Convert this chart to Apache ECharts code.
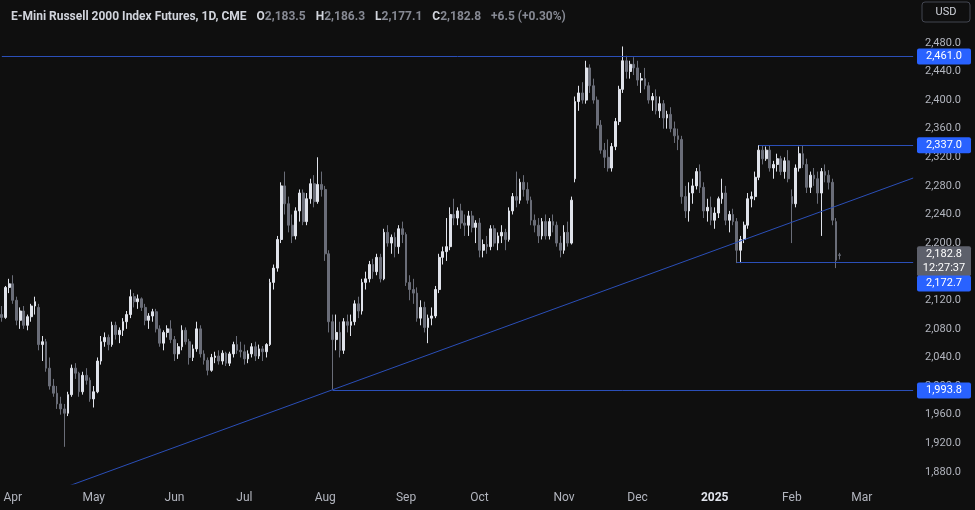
<!DOCTYPE html>
<html><head><meta charset="utf-8">
<script src="https://cdn.jsdelivr.net/npm/echarts@6/dist/echarts.min.js"></script>
<style>html,body{margin:0;background:#0f0f0f}#c{width:975px;height:510px}</style>
</head><body><div id="c"></div>
<script>
// [open, high, low, close] per trading day, from 2024-03-26 to 2025-02-21
const ohlc = [
[2100,2112,2090,2096],[2096,2140,2094,2138],[2138,2150,2130,2143],
[2143,2155,2115,2120],[2120,2125,2085,2092],[2092,2110,2080,2105],[2105,2112,2080,2085],[2085,2100,2078,2097],
[2097,2115,2090,2112],[2112,2125,2100,2118],[2110,2115,2050,2058],[2058,2070,2035,2062],[2062,2066,2020,2025],
[2025,2040,1995,2000],[2000,2010,1985,1990],[1990,2000,1968,1975],[1975,1985,1960,1968],[1968,1975,1915,1962],
[1962,1992,1958,1988],[1988,2030,1985,2025],[2025,2032,2010,2018],[2018,2020,1985,1992],[1992,2020,1988,2015],
[2015,2025,2002,2008],[2008,2012,1978,1982],
[1982,2000,1970,1992],[1992,2040,1990,2035],[2035,2070,2030,2062],[2062,2075,2055,2068],[2068,2072,2050,2058],
[2058,2090,2055,2085],[2085,2090,2065,2072],[2072,2082,2060,2078],[2078,2095,2070,2090],[2090,2105,2080,2100],
[2100,2135,2095,2125],[2125,2130,2110,2118],[2118,2128,2108,2122],[2122,2124,2105,2110],[2110,2115,2085,2092],
[2092,2102,2080,2098],[2098,2108,2090,2104],[2104,2108,2075,2080],[2080,2085,2055,2060],[2060,2078,2050,2075],
[2075,2085,2068,2080],[2080,2092,2060,2065],
[2065,2070,2035,2045],[2045,2060,2038,2055],[2055,2085,2050,2078],[2078,2082,2058,2062],[2062,2066,2030,2040],
[2040,2058,2035,2052],[2052,2090,2048,2080],[2080,2085,2040,2045],[2045,2050,2030,2036],[2036,2040,2015,2022],
[2022,2045,2020,2040],[2040,2048,2032,2042],[2042,2050,2030,2035],[2035,2050,2030,2046],[2046,2048,2028,2032],
[2032,2048,2028,2045],[2045,2062,2040,2058],[2058,2070,2045,2050],[2050,2062,2040,2048],
[2048,2058,2030,2038],[2038,2050,2032,2045],[2045,2060,2040,2055],[2055,2062,2035,2042],[2042,2058,2038,2052],
[2052,2056,2035,2048],[2048,2060,2040,2058],[2058,2150,2056,2145],[2145,2170,2135,2165],[2165,2210,2160,2205],
[2205,2285,2200,2280],[2280,2300,2240,2255],[2255,2265,2215,2225],[2225,2240,2200,2210],[2210,2250,2205,2245],
[2245,2275,2230,2270],[2270,2275,2225,2230],[2230,2270,2225,2262],[2262,2290,2255,2283],[2283,2295,2250,2258],
[2258,2320,2255,2282],[2282,2300,2265,2275],
[2275,2280,2175,2185],[2185,2190,2075,2090],[2090,2100,1995,2065],[2065,2100,2050,2075],[2075,2090,2040,2050],
[2050,2095,2045,2090],[2090,2100,2075,2085],[2085,2100,2070,2090],[2090,2120,2085,2115],[2115,2125,2095,2105],
[2105,2150,2100,2145],[2145,2160,2135,2150],[2150,2175,2145,2170],[2170,2178,2150,2160],[2160,2185,2155,2180],
[2180,2185,2145,2150],[2150,2220,2148,2215],[2215,2225,2195,2200],[2200,2212,2185,2208],[2208,2215,2180,2195],
[2195,2225,2185,2220],[2220,2230,2200,2212],
[2212,2215,2140,2145],[2145,2155,2120,2135],[2135,2150,2115,2130],[2130,2138,2090,2095],[2095,2120,2085,2110],
[2110,2118,2075,2082],[2082,2100,2060,2095],[2095,2110,2085,2098],[2098,2140,2095,2135],[2135,2185,2130,2180],
[2180,2195,2170,2188],[2188,2235,2175,2195],[2195,2250,2190,2240],[2240,2262,2225,2235],[2235,2250,2225,2245],
[2245,2255,2220,2228],[2228,2240,2210,2225],[2225,2245,2210,2238],[2238,2245,2215,2222],[2222,2232,2200,2228],
[2228,2235,2180,2190],[2190,2205,2180,2198],[2198,2210,2185,2195],[2195,2225,2190,2220],[2220,2225,2195,2200],
[2200,2215,2190,2210],[2210,2225,2200,2215],[2215,2220,2190,2205],[2205,2250,2202,2245],[2245,2270,2240,2265],
[2265,2300,2250,2260],[2260,2290,2255,2285],[2285,2295,2265,2275],[2275,2285,2255,2260],[2260,2265,2225,2232],
[2232,2240,2215,2225],[2225,2235,2200,2210],[2210,2235,2205,2230],[2230,2240,2205,2210],[2210,2235,2205,2230],
[2230,2240,2215,2225],[2225,2230,2195,2200],[2200,2210,2180,2190],
[2190,2225,2185,2215],[2215,2230,2195,2200],[2200,2265,2198,2260],[2290,2405,2285,2398],[2398,2420,2385,2410],
[2410,2425,2395,2400],[2400,2455,2395,2445],[2445,2450,2410,2420],[2420,2430,2395,2400],[2400,2405,2360,2365],
[2365,2372,2325,2330],[2330,2340,2305,2320],[2320,2345,2300,2305],[2305,2340,2300,2335],[2335,2375,2330,2370],
[2370,2420,2365,2415],[2415,2475,2410,2455],[2455,2462,2430,2440],[2440,2455,2430,2450],[2450,2460,2435,2445],
[2445,2455,2420,2428],[2428,2438,2410,2430],[2430,2445,2415,2420],[2420,2425,2395,2400],[2400,2410,2385,2405],
[2405,2415,2380,2385],[2385,2405,2375,2395],[2395,2400,2360,2375],[2375,2385,2360,2380],[2380,2390,2355,2360],
[2360,2370,2340,2350],[2350,2360,2330,2345],[2345,2350,2255,2265],[2265,2280,2235,2245],[2245,2285,2230,2270],
[2270,2290,2255,2280],[2280,2305,2275,2300],[2300,2310,2270,2278],[2278,2285,2235,2245],[2245,2262,2230,2250],
[2250,2265,2225,2232],
[2232,2250,2220,2242],[2242,2265,2235,2262],[2262,2290,2255,2270],[2270,2280,2225,2232],[2232,2245,2215,2240],
[2240,2248,2225,2230],[2230,2235,2172,2190],[2190,2210,2172,2205],[2205,2230,2200,2225],[2225,2270,2220,2262],
[2262,2272,2250,2265],[2265,2300,2260,2292],[2292,2337,2288,2330],[2330,2337,2310,2318],[2318,2335,2315,2330],
[2330,2337,2300,2305],[2305,2315,2290,2310],[2310,2325,2300,2318],[2318,2322,2295,2300],[2300,2320,2290,2315],
[2315,2330,2285,2290],
[2265,2275,2200,2255],[2255,2310,2250,2305],[2305,2335,2300,2325],[2325,2337,2305,2310],[2310,2318,2270,2278],
[2278,2300,2270,2295],[2295,2305,2280,2290],[2290,2300,2255,2270],[2270,2305,2210,2300],[2300,2310,2285,2295],
[2295,2302,2275,2285],[2285,2290,2225,2232],[2230,2235,2165,2176],[2183.5,2186.3,2177.1,2182.8]
];
const yTicks = [1880,1920,1960,2000,2040,2080,2120,2160,2200,2240,2280,2320,2360,2400,2440,2480];
const levels = [ {v:2461.0, from:0}, {v:2337.0, from:206}, {v:2172.7, from:200}, {v:1993.8, from:90} ];
const trendLine = [ {i:17, v:1858}, {i:248, v:2291} ];
const lastPrice = 2182.8, countdown = '12:27:37';
const monthNames = ['Jan','Feb','Mar','Apr','May','Jun','Jul','Aug','Sep','Oct','Nov','Dec'];
const holidays = ['2024-03-29','2024-05-27','2024-06-19','2024-07-04','2024-09-02','2024-11-28','2024-12-25','2025-01-01','2025-01-20','2025-02-17'];

// trading-day calendar for the category axis (plus empty future slots)
const dates = [];
let d = new Date(Date.UTC(2024,2,26));
while (dates.length < 249) {
  const s = d.toISOString().slice(0,10), wd = d.getUTCDay();
  if (wd !== 0 && wd !== 6 && !holidays.includes(s)) dates.push(s);
  d = new Date(d.getTime() + 86400000);
}
const candleData = ohlc.map(r => [r[0], r[3], r[2], r[1]]);
const isMonthStart = i => i > 0 && dates[i].slice(5,7) !== dates[i-1].slice(5,7);

const BLUE = '#2962ff', LINE = '#2b4fb8';
const fmt = v => v.toLocaleString('en-US',{minimumFractionDigits:1,maximumFractionDigits:1});
const chart = echarts.init(document.getElementById('c'));
const markData = levels.map(l => [{coord:[dates[l.from], l.v]}, {coord:[dates[248], l.v]}]);

chart.setOption({
  backgroundColor: '#0f0f0f',
  animation: false,
  title: {
    left: 6, top: 3,
    text: '{w|E-Mini Russell 2000 Index Futures, 1D, CME}  {w|O}{g|2,183.5}  {w|H}{g|2,186.3}  {w|L}{g|2,177.1}  {w|C}{g|2,182.8}  {g|+6.5 (+0.30%)}',
    textStyle: { rich: { w:{color:'#d1d4dc', fontSize:12, fontFamily:'Roboto'}, g:{color:'#868993', fontSize:12, fontFamily:'Roboto'} } }
  },
  grid: { left: 0, right: 60, top: 0, bottom: 26 },
  xAxis: {
    type: 'category', data: dates, boundaryGap: true,
    axisLine: { show: false }, axisTick: { show: false }, splitLine: { show: false },
    axisLabel: {
      interval: (i) => isMonthStart(i), margin: 8, fontSize: 12, fontFamily: 'Roboto',
      color: '#b2b5be',
      formatter: (v) => { const m = +v.slice(5,7); return m === 1 ? '{b|' + v.slice(0,4) + '}' : monthNames[m-1]; },
      rich: { b: { color:'#e0e3eb', fontWeight:'bold', fontSize:12, fontFamily:'Roboto' } }
    }
  },
  yAxis: {
    type: 'value', position: 'right', min: 1863, max: 2540, scale: true,
    axisLine: { show: false }, axisTick: { show: false }, splitLine: { show: false },
    axisLabel: { customValues: yTicks, color: '#b2b5be', fontSize: 11, fontFamily: 'Roboto', margin: 10,
      formatter: v => v.toLocaleString('en-US') + '.0' }
  },
  series: [{
    type: 'candlestick', data: candleData, barWidth: '62%',
    itemStyle: { color: '#e0e3eb', color0: '#6a6d78', borderColor: '#e0e3eb', borderColor0: '#6a6d78' },
    markLine: { symbol: 'none', silent: true, label: { show: false },
      lineStyle: { color: LINE, width: 1, type: 'solid' }, data: markData }
  }, {
    type: 'line', symbol: 'none', silent: true,
    data: trendLine.map(p => [dates[p.i], p.v]),
    lineStyle: { color: LINE, width: 1 }
  }]
});

// price badges on the axis
const gfx = [];
const yOf = v => chart.convertToPixel({yAxisIndex:0}, v);
const badge = (v, y, color, txt, h) => gfx.push({ type:'group', z: 100, children:[
  { type:'rect', z: 100, shape:{x:917, y:y-h/2, width:54, height:h, r:2}, style:{fill:color} },
  { type:'text', z: 101, style:{ x:944, y:y, text:txt, fill:'#ffffff', font:'11px Roboto', align:'center', verticalAlign:'middle', lineHeight:14 } }
]});
badge(2461.0, yOf(2461.0), BLUE, fmt(2461.0), 16);
badge(2337.0, yOf(2337.0), BLUE, fmt(2337.0), 16);
badge(lastPrice, yOf(lastPrice) + 6, '#5d606b', fmt(lastPrice) + '\n' + countdown, 30);
badge(2172.7, yOf(2172.7) + 21, BLUE, fmt(2172.7), 16);
badge(1993.8, yOf(1993.8), BLUE, fmt(1993.8), 16);
gfx.push({ type:'rect', z:100, shape:{x:922, y:2, width:48, height:20, r:3}, style:{fill:'none', stroke:'#434651'} });
gfx.push({ type:'text', z:100, style:{ x:946, y:12, text:'USD', fill:'#d1d4dc', font:'11px Roboto', align:'center', verticalAlign:'middle' } });
chart.setOption({ graphic: gfx });
</script></body></html>
